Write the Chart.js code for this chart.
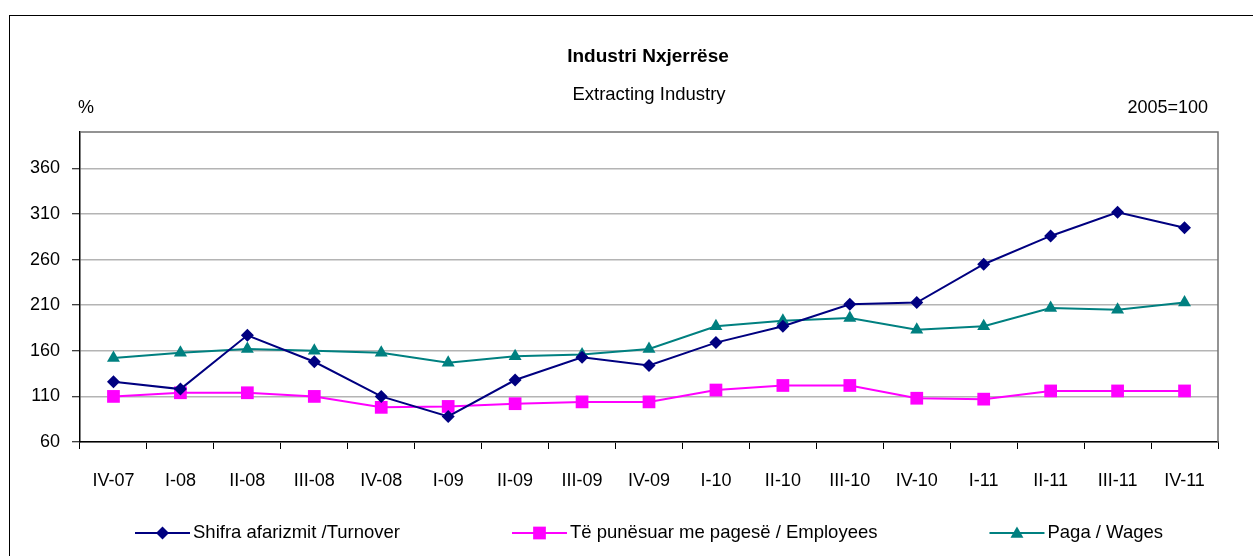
<!DOCTYPE html>
<html>
<head>
<meta charset="utf-8">
<script src="https://cdn.jsdelivr.net/npm/chart.js@4.4.1/dist/chart.umd.min.js"></script>
<style>
  html, body { margin: 0; padding: 0; background: #fff; }
  #wrap { position: relative; width: 1253px; height: 556px; }
</style>
</head>
<body>
<div id="wrap"><canvas id="chart" width="1253" height="556"></canvas></div>
<script>
// quarters on the x axis
const quarters = ["IV-07", "I-08", "II-08", "III-08", "IV-08", "I-09", "II-09", "III-09", "IV-09",
  "I-10", "II-10", "III-10", "IV-10", "I-11", "II-11", "III-11", "IV-11"];

// index values, 2005=100
const turnover = [126, 118, 177, 148, 110, 88, 128, 153, 144, 169, 187, 211, 213, 255, 286, 312, 295];
const employees = [110, 114, 114, 110, 98, 99, 102, 104, 104, 117, 122, 122, 108, 107, 116, 116, 116];
const wages = [152, 158, 162, 160, 158, 147, 154, 156, 162, 187, 193, 196, 183, 187, 207, 205, 213];

const yTickValues = [60, 110, 160, 210, 260, 310, 360];

const FONT = "'Liberation Sans', Arial, sans-serif";

const labelsPlugin = {
  id: 'extras',
  afterDraw(chart) {
    const ctx = chart.ctx;
    const a = chart.chartArea;
    ctx.save();

    // outer frame
    ctx.strokeStyle = '#000';
    ctx.lineWidth = 1;
    ctx.strokeRect(9.5, 15.5, 1400, 700);

    // plot area top + right border
    ctx.strokeStyle = '#707070';
    ctx.lineWidth = 1.5;
    ctx.beginPath();
    ctx.moveTo(a.left, a.top);
    ctx.lineTo(a.right, a.top);
    ctx.lineTo(a.right, a.bottom);
    ctx.stroke();

    // titles
    ctx.fillStyle = '#000';
    ctx.textBaseline = 'middle';
    ctx.textAlign = 'center';
    ctx.font = 'bold 19px ' + FONT;
    ctx.fillText('Industri Nxjerrëse', 648, 57);
    ctx.font = '18.5px ' + FONT;
    ctx.fillText('Extracting Industry', 649, 95);
    ctx.font = '18px ' + FONT;
    ctx.textAlign = 'left';
    ctx.fillText('%', 78, 108);
    ctx.textAlign = 'right';
    ctx.fillText('2005=100', 1208, 108);

    // legend
    const items = chart.data.datasets;
    const lineW = 55, txtGap = 3, itemGap = 112;
    ctx.font = '18.5px ' + FONT;
    const widths = items.map(d => lineW + txtGap + ctx.measureText(d.label).width);
    const total = widths.reduce((s, w) => s + w, 0) + itemGap * (items.length - 1);
    let x = 649 - total / 2;
    const y = 533;
    items.forEach((d, i) => {
      ctx.strokeStyle = d.borderColor;
      ctx.lineWidth = 2;
      ctx.beginPath();
      ctx.moveTo(x, y);
      ctx.lineTo(x + lineW, y);
      ctx.stroke();
      ctx.fillStyle = d.pointBackgroundColor;
      Chart.helpers.drawPoint(ctx, {
        pointStyle: d.pointStyle, radius: d.pointRadius, borderWidth: 0, rotation: 0
      }, x + lineW / 2, y + (d.pointStyle === 'triangle' ? 1 : 0));
      ctx.fillStyle = '#000';
      ctx.textAlign = 'left';
      ctx.fillText(d.label, x + lineW + txtGap, y);
      x += widths[i] + itemGap;
    });
    ctx.restore();
  }
};

new Chart(document.getElementById('chart'), {
  type: 'line',
  data: {
    labels: quarters,
    datasets: [
      {
        label: 'Shifra afarizmit /Turnover',
        data: turnover,
        borderColor: '#000080',
        backgroundColor: '#000080',
        pointBackgroundColor: '#000080',
        pointBorderColor: '#000080',
        pointStyle: 'rectRot',
        pointRadius: 6.5,
        pointBorderWidth: 0,
        borderWidth: 2,
        tension: 0
      },
      {
        label: 'Të punësuar me pagesë / Employees',
        data: employees,
        borderColor: '#ff00ff',
        backgroundColor: '#ff00ff',
        pointBackgroundColor: '#ff00ff',
        pointBorderColor: '#ff00ff',
        pointStyle: 'rect',
        pointRadius: 9,
        pointBorderWidth: 0,
        borderWidth: 2,
        tension: 0
      },
      {
        label: 'Paga / Wages',
        data: wages,
        borderColor: '#008080',
        backgroundColor: '#008080',
        pointBackgroundColor: '#008080',
        pointBorderColor: '#008080',
        pointStyle: 'triangle',
        pointRadius: 7.5,
        pointBorderWidth: 0,
        borderWidth: 2,
        tension: 0
      }
    ]
  },
  options: {
    responsive: false,
    animation: false,
    events: [],
    layout: { padding: { left: 0, top: 132, right: 35, bottom: 0 } },
    plugins: {
      legend: { display: false },
      tooltip: { enabled: false }
    },
    scales: {
      x: {
        type: 'category',
        offset: true,
        grid: { offset: true, drawOnChartArea: false, tickLength: 7, color: '#000', lineWidth: 1 },
        border: { display: true, color: '#000', width: 1.5 },
        ticks: { color: '#000', font: { family: FONT, size: 18 }, padding: 21, maxRotation: 0, autoSkip: false },
        afterFit(scale) { scale.height = 114; }
      },
      y: {
        min: 60,
        max: 400,
        ticks: { stepSize: 50, color: '#000', font: { family: FONT, size: 18 }, padding: 12 },
        afterBuildTicks(scale) {
          scale.ticks = yTickValues.map(v => ({ value: v }));
        },
        grid: { color: '#b4b4b4', lineWidth: 1.5, tickLength: 8, tickColor: '#000', tickWidth: 1 },
        border: { display: true, color: '#000', width: 1.5 },
        afterFit(scale) { scale.width = 80; }
      }
    }
  },
  plugins: [labelsPlugin]
});
</script>
</body>
</html>
